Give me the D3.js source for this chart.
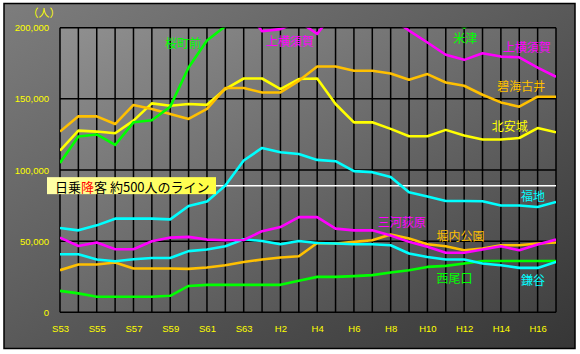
<!DOCTYPE html>
<html>
<head>
<meta charset="utf-8">
<script src="https://cdn.jsdelivr.net/npm/d3@7"></script>
<style>
    body { margin: 0; background: #fff; }
    svg { display: block; }
</style>
</head>
<body>
<div id="chart"></div>
<script>
// years S53 (1978) .. H17 (2005)
const years = [1978, 1979, 1980, 1981, 1982, 1983, 1984, 1985, 1986, 1987, 1988, 1989, 1990, 1991,
    1992, 1993, 1994, 1995, 1996, 1997, 1998, 1999, 2000, 2001, 2002, 2003, 2004, 2005];
const xTickYears = [1978, 1980, 1982, 1984, 1986, 1988, 1990, 1992, 1994, 1996, 1998, 2000, 2002, 2004];
const xTickLabels = ["S53", "S55", "S57", "S59", "S61", "S63", "H2", "H4", "H6", "H8", "H10", "H12", "H14", "H16"];
const yTicks = [0, 50000, 100000, 150000, 200000];
const guideValue = 89000;

// annual passengers, null = not drawn (off the chart)
const sakuramachimae = [105000, 123500, 125000, 117600, 133500, 135000, 144500, 172000, 191000, 201000, 215000,
    null, null, null, null, null, null, null, null, null, null, null, null, null, null, null, null, null];
const yonezu = [null, null, null, null, null, null, null, null, null, null, null, null, null, null,
    null, null, null, null, null, null, null, 208000, 200000, 208000, null, null, null, null];
const kamiyokosuka = [null, null, null, null, null, null, null, null, null, null, 215000, 197500, 199000, 204500,
    195600, 213000, 215000, 215000, 207000, 198000, 189600, 181000, 177400, 182000, 179700, 179200, 172000, 165500];
const hekikaiFurui = [127000, 137700, 137700, 132300, 145700, 142900, 139400, 135900, 142900, 157600, 157600, 154500, 154500, 162700,
    172700, 172700, 169700, 169700, 167800, 163400, 167400, 161500, 159200, 152900, 147500, 144500, 151500, 151500];
const kitaAnjo = [113600, 127700, 127000, 125800, 134700, 146800, 145200, 146400, 145800, 156900, 164300, 164300, 156900, 163900,
    164300, 146400, 133500, 133500, 128900, 123700, 123700, 128200, 124200, 121400, 121400, 122500, 129500, 126500];
const fukuchi = [59200, 57600, 61100, 65800, 65800, 65800, 65300, 74700, 77900, 89100, 106700, 115500, 112500, 111300,
    107100, 106200, 99200, 98500, 95000, 84300, 81400, 78200, 78200, 78000, 75100, 75100, 74000, 77500];
const mikawaOgihara = [52500, 46600, 49000, 44300, 44300, 49900, 52500, 53000, 51100, 50600, 50800, 57000, 59900, 66900,
    66900, 58800, 57600, 57600, 54000, 49500, 46000, 41800, 41800, 44100, 46400, 43600, 47600, 51100];
const horiuchiKoen = [29600, 33600, 33600, 35000, 30800, 30800, 30800, 30500, 31500, 33100, 35400, 37100, 38500, 39400,
    48700, 48300, 49500, 50600, 54600, 51800, 47800, 46400, 43600, 44800, 47100, 47100, 48300, 49000];
const kamaya = [40800, 40800, 37100, 35900, 37300, 38200, 38200, 43000, 44100, 46400, 51300, 50100, 47800, 50100,
    48700, 48300, 47800, 47800, 47100, 41300, 38900, 37100, 37100, 34300, 33100, 31200, 31200, 35400];
const nishioguchi = [15100, 13300, 10900, 10900, 10900, 10900, 11600, 18500, 19300, 19300, 19300, 19300, 19300, 22100,
    24900, 24900, 25400, 26100, 28000, 29600, 31900, 32600, 34300, 36100, 36100, 36100, 36100, 36100];

const series = [
    {name: "西尾口", color: "#00ff00", values: nishioguchi},
    {name: "堀内公園", color: "#ffc000", values: horiuchiKoen},
    {name: "鎌谷", color: "#00ffff", values: kamaya},
    {name: "三河荻原", color: "#ff00ff", values: mikawaOgihara},
    {name: "福地", color: "#00ffff", values: fukuchi},
    {name: "北安城", color: "#ffff00", values: kitaAnjo},
    {name: "碧海古井", color: "#ffc000", values: hekikaiFurui},
    {name: "桜町前", color: "#00ff00", values: sakuramachimae},
    {name: "米津", color: "#00ff00", values: yonezu},
    {name: "上横須賀", color: "#ff00ff", values: kamiyokosuka}
];

// label anchors in data space: [text, color, year, value]
const labels = [
    ["桜町前", "#00ff00", 1983.72, 189300],
    ["上横須賀", "#ff00ff", 1989.2, 190700],
    ["米津", "#00ff00", 1999.4, 193100],
    ["上横須賀", "#ff00ff", 2002.1, 186500],
    ["碧海古井", "#ffc000", 2001.8, 159500],
    ["北安城", "#ffff00", 2001.5, 131200],
    ["福地", "#00ffff", 2003.1, 82100],
    ["三河荻原", "#ff00ff", 1995.3, 63900],
    ["堀内公園", "#ffc000", 1998.5, 54100],
    ["西尾口", "#00ff00", 1998.5, 24400],
    ["鎌谷", "#00ffff", 2003.1, 23000]
];

const W = 580, H = 354;
const plot = {left: 60, right: 556, top: 27.7, bottom: 312.3};

const x = d3.scaleLinear().domain([1978, 2005]).range([plot.left, plot.right]);
const y = d3.scaleLinear().domain([0, 200000]).range([plot.bottom, plot.top]);

const svg = d3.select("#chart").append("svg")
    .attr("width", W)
    .attr("height", H);

const defs = svg.append("defs");
const bgGrad = defs.append("linearGradient").attr("id", "bg")
    .attr("x1", 0).attr("y1", 0).attr("x2", 1).attr("y2", 1);
bgGrad.append("stop").attr("offset", 0).attr("stop-color", "#7d7d7d");
bgGrad.append("stop").attr("offset", 1).attr("stop-color", "#363636");
const plotGrad = defs.append("linearGradient").attr("id", "plotbg")
    .attr("x1", 0).attr("y1", 0).attr("x2", 1).attr("y2", 1);
plotGrad.append("stop").attr("offset", 0).attr("stop-color", "#909090");
plotGrad.append("stop").attr("offset", 1).attr("stop-color", "#424242");
const boxGrad = defs.append("linearGradient").attr("id", "box")
    .attr("x1", 0).attr("y1", 0).attr("x2", 1).attr("y2", 0);
boxGrad.append("stop").attr("offset", 0).attr("stop-color", "#ffffa8");
boxGrad.append("stop").attr("offset", 1).attr("stop-color", "#ffff40");
defs.append("clipPath").attr("id", "clip")
    .append("rect")
    .attr("x", plot.left)
    .attr("y", plot.top)
    .attr("width", plot.right - plot.left)
    .attr("height", plot.bottom - plot.top);

// frame
svg.append("rect")
    .attr("x", 4).attr("y", 3.5)
    .attr("width", 571).attr("height", 345)
    .attr("fill", "url(#bg)")
    .attr("stroke", "#000")
    .attr("stroke-width", 1.5);

svg.append("rect")
    .attr("x", plot.left).attr("y", plot.top)
    .attr("width", plot.right - plot.left)
    .attr("height", plot.bottom - plot.top)
    .attr("fill", "url(#plotbg)");

// grid
svg.append("g")
    .selectAll("line")
    .data(years)
    .join("line")
    .attr("x1", d => x(d)).attr("x2", d => x(d))
    .attr("y1", plot.top).attr("y2", plot.bottom)
    .attr("stroke", "#000")
    .attr("stroke-width", 1.5);

svg.append("g")
    .selectAll("line")
    .data(yTicks)
    .join("line")
    .attr("x1", plot.left).attr("x2", plot.right)
    .attr("y1", d => y(d)).attr("y2", d => y(d))
    .attr("stroke", "#000")
    .attr("stroke-width", 1.5);

// axes (labels only)
const yAxis = svg.append("g")
    .attr("transform", "translate(" + (plot.left - 8) + ",0)")
    .call(d3.axisLeft(y).tickValues(yTicks).tickFormat(d3.format(",")).tickSize(0));
yAxis.select(".domain").remove();
yAxis.selectAll("text")
    .attr("fill", "#ffff00")
    .attr("font-family", "Liberation Sans, Arial, sans-serif")
    .attr("font-size", "9.5px");

const xAxis = svg.append("g")
    .attr("transform", "translate(0," + (plot.bottom + 10) + ")")
    .call(d3.axisBottom(x).tickValues(xTickYears).tickFormat((d, i) => xTickLabels[i]).tickSize(0));
xAxis.select(".domain").remove();
xAxis.selectAll("text")
    .attr("fill", "#ffff00")
    .attr("font-family", "Liberation Sans, Arial, sans-serif")
    .attr("font-size", "9.5px");

svg.append("text")
    .attr("x", 44).attr("y", 17)
    .attr("text-anchor", "middle")
    .attr("fill", "#ffff00")
    .attr("font-family", "Noto Sans CJK JP")
    .attr("font-size", "11px")
    .text("（人）");

// 500 people per day line
svg.append("line")
    .attr("x1", plot.left).attr("x2", plot.right)
    .attr("y1", y(guideValue)).attr("y2", y(guideValue))
    .attr("stroke", "#fff")
    .attr("stroke-width", 1.5);

// series lines
const line = d3.line()
    .defined(d => d != null)
    .x((d, i) => x(years[i]))
    .y(d => y(d));

svg.append("g")
    .attr("clip-path", "url(#clip)")
    .selectAll("path")
    .data(series)
    .join("path")
    .attr("d", d => line(d.values))
    .attr("fill", "none")
    .attr("stroke", d => d.color)
    .attr("stroke-width", 2.6)
    .attr("stroke-linejoin", "round");

svg.append("g")
    .selectAll("text")
    .data(labels)
    .join("text")
    .attr("x", d => x(d[2]))
    .attr("y", d => y(d[3]))
    .attr("dominant-baseline", "central")
    .attr("fill", d => d[1])
    .attr("font-family", "Noto Sans CJK JP")
    .attr("font-size", "12px")
    .text(d => d[0]);

// legend box for the guide line
const gy = y(guideValue);
svg.append("rect")
    .attr("x", 47).attr("y", gy - 8.5)
    .attr("width", 169).attr("height", 17)
    .attr("fill", "url(#box)");
const boxText = svg.append("text")
    .attr("x", 55).attr("y", gy)
    .attr("dominant-baseline", "central")
    .attr("font-family", "Noto Sans CJK JP")
    .attr("font-size", "13px")
    .attr("fill", "#000");
boxText.append("tspan").text("日乗");
boxText.append("tspan").attr("fill", "#ff0000").text("降");
boxText.append("tspan").text("客 約500人のライン");
</script>
</body>
</html>
